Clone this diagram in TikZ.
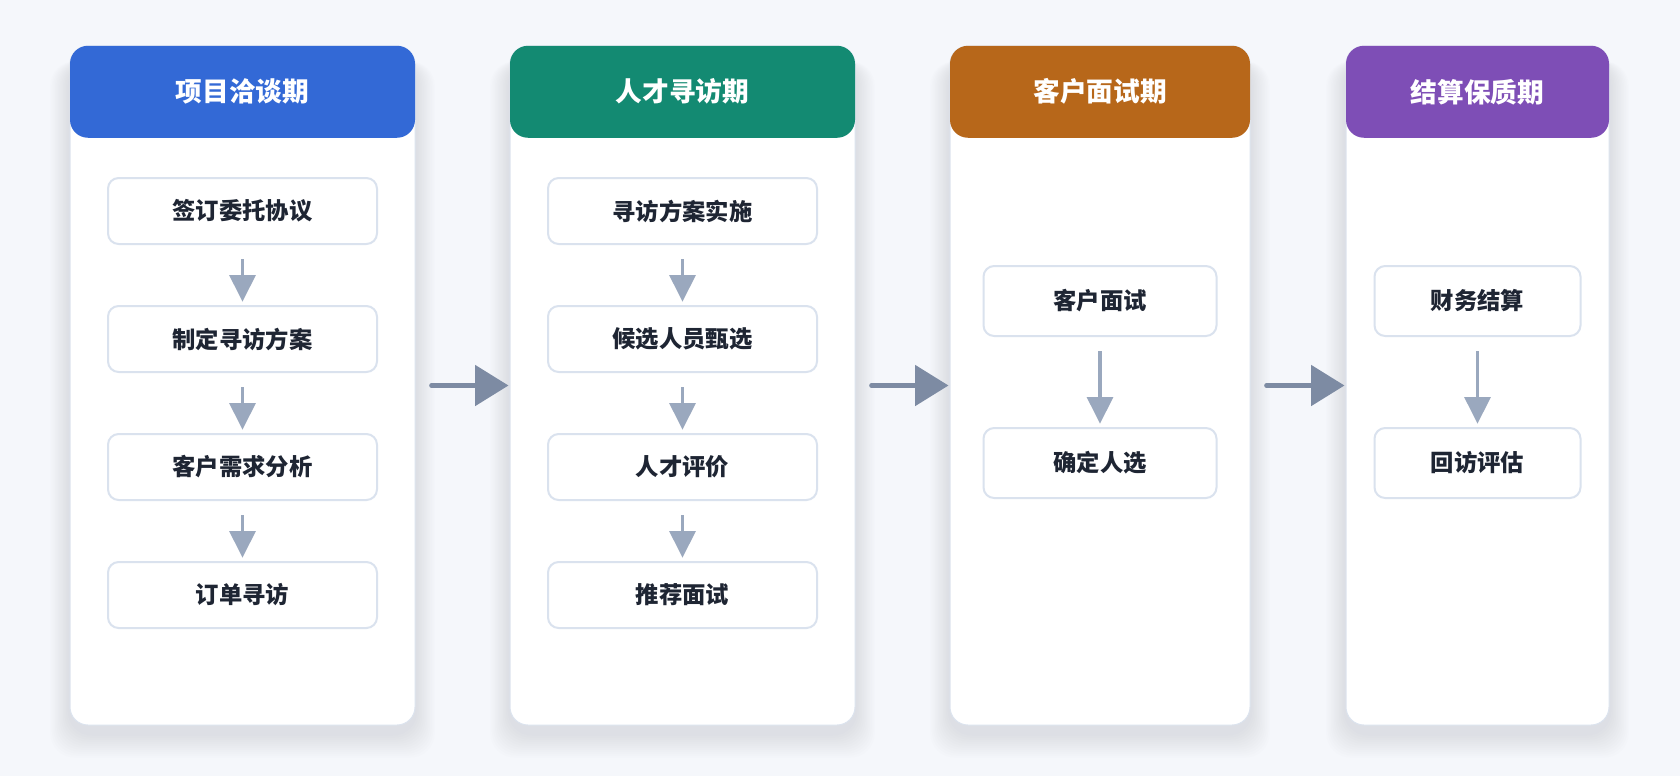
\documentclass[tikz,border=0pt]{standalone}
\usepackage{fontspec}
\setmainfont{Noto Sans CJK SC}
\usetikzlibrary{arrows.meta}
\usetikzlibrary{positioning,backgrounds}

\definecolor{pagebg}{HTML}{F5F7FB}
\definecolor{cardline}{HTML}{DCE3EE}
\definecolor{boxline}{HTML}{DAE2EE}
\definecolor{textdark}{HTML}{1E2533}
\definecolor{arrowsoft}{HTML}{9AA8BE}
\definecolor{arrowdark}{HTML}{7D8BA3}
\definecolor{shadowc}{HTML}{7A88A8}
\definecolor{headblue}{HTML}{3369D6}
\definecolor{headgreen}{HTML}{138A72}
\definecolor{headorange}{HTML}{B7671A}
\definecolor{headpurple}{HTML}{7E4EB6}

\tikzset{
 card/.style={draw=cardline, line width=0.75pt, fill=white, rounded corners=13.5pt, inner sep=0pt, minimum height=509.25pt},
 phasehead/.style={fill=#1, rounded corners=13.5pt, text=white, anchor=north, inner sep=0pt, minimum height=69pt, font=\fontsize{20}{24}\selectfont\bfseries},
 stepbox/.style={draw=boxline, line width=1.5pt, fill=white, rounded corners=8pt, text=textdark, inner sep=0pt, font=\fontsize{17.5}{21}\selectfont\bfseries},
 substep/.style={draw=arrowsoft, line width=2.4pt, -{Triangle[width=19.5pt,length=20pt]}, shorten <=10.5pt, shorten >=2.5pt},
 phasearrow/.style={draw=arrowdark, line width=3.5pt, line cap=round, -{Triangle[width=30pt,length=25pt]}, shorten <=12pt, shorten >=0.75pt}
}

\begin{document}
\begin{tikzpicture}[x=0.75pt, y=-0.75pt]
\useasboundingbox (0,0) rectangle (1680,776);

% phase cards
\node[card, minimum width=258.75pt] (c1) at (242.5,385.5) {};
\node[card, minimum width=258.75pt] (c2) at (682.5,385.5) {};
\node[card, minimum width=225pt]    (c3) at (1100,385.5) {};
\node[card, minimum width=197.25pt] (c4) at (1477.5,385.5) {};

\node[phasehead=headblue,   minimum width=258.75pt] (h1) at (c1.north) {项目洽谈期};
\node[phasehead=headgreen,  minimum width=258.75pt] (h2) at (c2.north) {人才寻访期};
\node[phasehead=headorange, minimum width=225pt]    (h3) at (c3.north) {客户面试期};
\node[phasehead=headpurple, minimum width=197.25pt] (h4) at (c4.north) {结算保质期};

% steps
\begin{scope}[stepbox/.append style={minimum width=201.75pt, minimum height=49.5pt}]
\node[stepbox] (a1) at (242.5,211) {签订委托协议};
\node[stepbox, below=45pt of a1] (a2) {制定寻访方案};
\node[stepbox, below=45pt of a2] (a3) {客户需求分析};
\node[stepbox, below=45pt of a3] (a4) {订单寻访};
\node[stepbox] (b1) at (682.5,211) {寻访方案实施};
\node[stepbox, below=45pt of b1] (b2) {候选人员甄选};
\node[stepbox, below=45pt of b2] (b3) {人才评价};
\node[stepbox, below=45pt of b3] (b4) {推荐面试};
\end{scope}
\node[stepbox, minimum width=174.75pt, minimum height=52.5pt] (d1) at (1100,301) {客户面试};
\node[stepbox, minimum width=174.75pt, minimum height=52.5pt, below=67.5pt of d1] (d2) {确定人选};
\node[stepbox, minimum width=154.5pt, minimum height=52.5pt] (e1) at (1477.5,301) {财务结算};
\node[stepbox, minimum width=154.5pt, minimum height=52.5pt, below=67.5pt of e1] (e2) {回访评估};

\foreach \p/\q in {a1/a2, a2/a3, a3/a4, b1/b2, b2/b3, b3/b4, d1/d2, e1/e2}
 \draw[substep] (\p.south) -- (\q.north);

\foreach \p/\q in {c1/c2, c2/c3, c3/c4}
 \draw[phasearrow] (\p.east) -- (\q.west);

% page and soft shadows
\begin{scope}[on background layer]
\fill[pagebg] (0,0) rectangle (1680,776);
\foreach \c in {c1,c2,c3,c4}
 \foreach \s in {2,4,...,24}
  \fill[shadowc, opacity=0.014, rounded corners=18pt] ([shift={(-0.8*\s,16)}]\c.north west) rectangle ([shift={(0.8*\s,\s+8)}]\c.south east);
\end{scope}
\end{tikzpicture}
\end{document}
